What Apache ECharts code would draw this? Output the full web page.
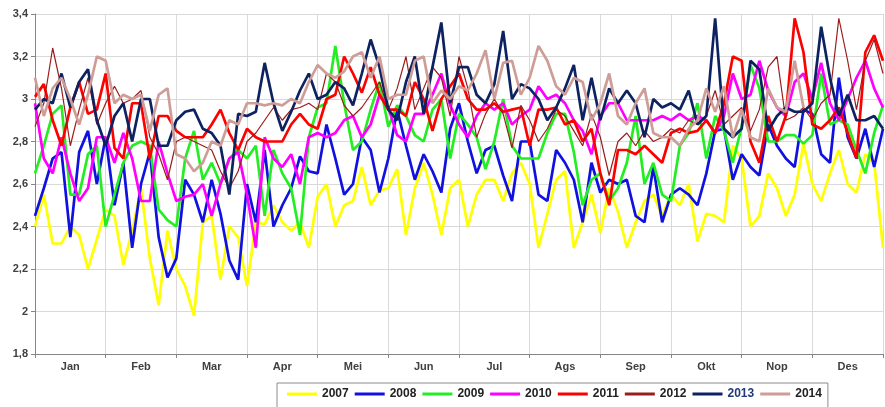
<!DOCTYPE html>
<html>
<head>
<meta charset="utf-8">
<script src="https://cdn.jsdelivr.net/npm/echarts@6/dist/echarts.min.js"></script>
<style>
html,body{margin:0;padding:0;background:#fff;}
#c{width:885px;height:407px;}
</style>
</head>
<body>
<div id="c"></div>
<script>
// Month labels (Indonesian)
const months = ['Jan','Feb','Mar','Apr','Mei','Jun','Jul','Ags','Sep','Okt','Nop','Des'];
// Y tick values
const yTicks = [1.8, 2.0, 2.2, 2.4, 2.6, 2.8, 3.0, 3.2, 3.4];
const years = ['2007','2008','2009','2010','2011','2012','2013','2014'];

// 8 readings per month (Jan..Des) + year-end value
const y2007 = [
2.40,2.55,2.32,2.32,2.40,2.36,2.20,2.34,
2.48,2.45,2.22,2.38,2.58,2.25,2.03,2.38,
2.20,2.12,1.98,2.42,2.45,2.15,2.40,2.35,
2.12,2.42,2.41,2.50,2.42,2.38,2.42,2.30,
2.54,2.60,2.40,2.50,2.52,2.68,2.50,2.57,
2.58,2.67,2.36,2.58,2.70,2.55,2.36,2.58,
2.62,2.40,2.55,2.62,2.62,2.52,2.65,2.70,
2.60,2.30,2.46,2.62,2.66,2.30,2.42,2.55,
2.37,2.58,2.47,2.30,2.42,2.52,2.55,2.45,
2.55,2.50,2.60,2.33,2.46,2.45,2.42,2.78,
2.72,2.40,2.45,2.65,2.58,2.45,2.55,2.79,
2.60,2.52,2.65,2.76,2.60,2.56,2.74,2.70,
2.30];
const y2008 = [
2.45,2.58,2.72,2.75,2.35,2.75,2.85,2.60,
2.82,2.50,2.70,2.30,2.60,2.75,2.35,2.16,
2.25,2.62,2.55,2.42,2.62,2.46,2.24,2.15,
2.60,2.42,2.76,2.40,2.50,2.58,2.73,2.66,
2.65,2.88,2.72,2.55,2.60,2.82,2.76,2.56,
2.72,2.95,2.78,2.62,2.74,2.66,2.56,2.86,
2.98,2.80,2.65,2.76,2.78,2.64,2.52,2.80,
2.80,2.55,2.52,2.76,2.70,2.62,2.42,2.70,
2.56,2.62,2.60,2.62,2.45,2.42,2.68,2.42,
2.55,2.58,2.55,2.50,2.65,2.85,2.86,2.62,
2.74,2.68,2.64,2.88,2.78,2.72,2.68,2.95,
2.93,2.74,2.70,3.10,2.82,2.72,2.86,2.68,
2.86];
const y2009 = [
2.65,2.78,2.93,2.97,2.55,2.55,2.74,2.78,
2.40,2.55,2.70,2.78,2.80,2.78,2.48,2.43,
2.40,2.72,2.85,2.62,2.70,2.60,2.72,2.76,
2.72,2.78,2.45,2.76,2.65,2.58,2.36,2.82,
2.96,2.98,3.25,2.98,2.76,2.80,2.95,3.08,
2.87,2.97,2.92,2.83,2.80,2.95,3.00,2.72,
2.93,2.88,2.82,2.67,2.80,3.00,2.78,2.72,
2.72,2.72,2.84,2.93,2.93,2.75,2.50,2.62,
2.65,2.52,2.58,2.70,2.92,2.60,2.70,2.55,
2.52,2.78,2.84,2.98,2.72,2.92,2.85,2.70,
2.87,3.16,3.05,2.80,2.80,2.83,2.83,2.79,
2.83,3.12,2.88,2.90,2.88,2.76,2.65,2.84,
2.97];
const y2010 = [
2.98,2.72,2.65,2.82,2.65,2.52,2.58,2.82,
2.82,2.70,2.84,2.72,2.52,2.52,2.80,2.65,
2.52,2.54,2.55,2.60,2.45,2.60,2.72,2.75,
2.55,2.30,2.82,2.72,2.68,2.74,2.60,2.82,
2.84,2.82,2.84,2.90,2.92,2.82,2.88,3.02,
2.96,2.83,2.80,2.93,2.93,3.02,3.12,2.97,
2.88,2.82,2.92,2.98,2.95,2.98,2.88,2.92,
2.95,3.06,3.00,3.02,2.98,2.90,2.85,2.74,
2.92,2.98,2.98,2.90,2.90,2.90,2.90,2.92,
2.90,2.93,2.90,2.92,2.90,2.84,2.92,3.12,
3.00,3.02,3.18,3.04,2.96,2.92,3.08,3.12,
3.00,3.17,2.98,2.90,3.00,3.10,3.18,3.05,
2.96];
const y2011 = [
3.01,3.07,2.90,2.78,2.96,3.08,2.93,2.95,
3.12,2.77,2.72,2.98,2.98,2.72,2.92,2.92,
2.85,2.82,2.82,2.82,2.88,2.95,2.84,2.76,
2.86,2.82,2.80,2.80,2.80,2.88,2.93,2.88,
2.86,3.00,3.02,3.20,3.12,3.03,3.15,3.02,
2.95,2.95,2.92,3.08,3.00,2.85,3.00,3.06,
3.12,3.00,2.95,2.95,2.98,2.94,2.95,2.96,
2.78,2.95,2.95,2.96,2.88,2.90,2.80,2.86,
2.65,2.50,2.76,2.76,2.74,2.78,2.74,2.70,
2.84,2.86,2.84,2.85,2.90,2.84,2.98,3.20,
3.18,2.80,2.70,2.92,2.80,2.92,3.38,3.22,
2.88,2.86,2.90,2.96,2.84,2.72,3.22,3.30,
3.18];
const y2012 = [
2.87,2.98,3.24,3.05,2.78,2.95,3.10,2.88,
2.98,3.06,2.98,3.00,3.04,2.82,2.74,2.62,
2.80,2.82,2.80,2.78,2.76,2.66,2.58,2.66,
2.80,2.84,2.90,2.96,2.90,2.95,2.96,2.98,
2.95,3.12,3.08,2.97,2.92,2.96,3.02,3.08,
2.95,3.05,3.20,2.95,3.05,3.15,3.10,2.92,
3.20,3.05,2.82,2.93,3.00,2.93,2.77,2.97,
2.90,2.80,2.86,2.95,2.92,2.85,2.78,2.93,
2.82,2.64,2.80,2.84,2.78,2.85,2.80,2.82,
2.86,2.84,2.90,2.88,2.92,3.04,2.88,2.92,
2.96,2.85,2.95,3.15,3.20,2.90,2.92,2.96,
2.90,2.98,3.02,3.38,3.18,2.95,3.18,3.28,
3.12];
const y2013 = [
2.95,3.00,2.98,3.12,2.96,3.08,3.14,2.90,
2.78,2.92,2.98,2.80,3.00,3.00,2.78,2.78,
2.90,2.94,2.95,2.86,2.84,2.78,2.55,2.93,
2.92,2.94,3.17,2.98,2.85,2.94,3.04,3.12,
3.00,3.02,3.08,3.05,2.97,3.12,3.28,3.15,
2.95,2.90,3.08,3.20,2.93,3.15,3.36,2.98,
3.15,3.15,3.02,2.98,3.07,3.32,3.00,3.07,
3.05,3.00,2.90,2.96,3.05,3.16,2.90,3.10,
2.90,3.05,2.98,3.04,2.98,2.82,3.00,2.96,
2.98,2.95,3.04,2.88,2.92,3.38,2.86,2.82,
2.86,3.18,3.14,2.85,2.92,2.96,2.94,2.94,
2.98,3.34,3.10,2.92,3.02,2.90,2.90,2.92,
2.86];
const y2014 = [
3.10,2.92,3.05,3.10,3.00,2.88,3.02,3.20,
3.18,2.98,3.02,3.00,3.02,2.85,3.02,3.05,
2.74,2.72,2.66,2.70,2.80,2.78,2.90,2.88,
2.98,2.98,2.97,2.98,2.97,3.00,2.98,3.08,
3.16,3.12,3.10,3.13,3.20,3.22,3.10,3.20,
3.00,3.02,3.02,3.18,3.20,2.98,3.04,3.00,
3.06,3.04,3.12,3.23,3.00,3.17,3.18,3.02,
3.10,3.25,3.18,3.06,3.02,3.10,3.08,2.90,
2.98,3.12,2.92,2.88,2.98,3.05,2.84,2.82,
2.82,2.78,2.86,2.90,3.05,2.94,3.06,2.82,
2.95,2.82,2.80,3.05,2.96,2.94,3.18,2.96,
null,null,null,null,null,null,null,null,
null];

const seriesValues = [y2007,y2008,y2009,y2010,y2011,y2012,y2013,y2014];
const colors = ['#ffff00','#1010e0','#22ee22','#ff00ff','#ff0000','#9b1c1c','#0d2260','#cf9d98'];
const widths = [2.7,2.7,2.7,2.7,2.7,1.2,2.7,2.7];

function toPairs(arr){
  const out = [];
  arr.forEach((v,i)=>{ if(v!==null) out.push([i/8, v]); });
  return out;
}

const chart = echarts.init(document.getElementById('c'), null, {renderer:'canvas'});
const labelStyle = {fontFamily:'Liberation Sans, Arial, sans-serif', fontWeight:'bold', fontSize:11, color:'#404040'};

chart.setOption({
  animation:false,
  backgroundColor:'#fff',
  grid:{left:35, right:2, top:14, bottom:53, containLabel:false},
  xAxis:[
    {type:'value', min:0, max:12, interval:1, position:'bottom',
     axisLine:{show:true, lineStyle:{color:'#868686', width:1}},
     axisTick:{show:true, length:4, lineStyle:{color:'#868686'}},
     axisLabel:{show:false},
     splitLine:{show:true, lineStyle:{color:'#d9d9d9', width:1}}},
    {type:'category', data:months, position:'bottom', boundaryGap:true,
     axisLine:{show:false}, axisTick:{show:false}, splitLine:{show:false},
     axisLabel:Object.assign({margin:7, interval:0}, labelStyle)}
  ],
  yAxis:{type:'value', min:yTicks[0], max:yTicks[yTicks.length-1], interval:0.2,
     axisLine:{show:true, lineStyle:{color:'#868686', width:1}},
     axisTick:{show:true, length:4, inside:false, lineStyle:{color:'#868686'}},
     splitLine:{show:true, lineStyle:{color:'#d9d9d9', width:1}},
     axisLabel:Object.assign({margin:7, formatter:function(v){
        return String(+v.toFixed(1)).replace('.', ',');
     }}, labelStyle)},
  legend:{
    left:277, top:383, orient:'horizontal',
    borderColor:'#8c8c8c', borderWidth:1, padding:[5,6,8,10],
    itemWidth:30, itemHeight:3, itemGap:6, icon:'rect',
    textStyle:{fontFamily:'Liberation Sans, Arial, sans-serif', fontWeight:'bold', fontSize:12, color:'#222'},
    data: years.map((y,i)=> i===6 ? {name:y, textStyle:{color:'#1f3a7a'}} : {name:y})
  },
  series: years.map((y,i)=>({
    name:y, type:'line', xAxisIndex:0, yAxisIndex:0,
    data:toPairs(seriesValues[i]),
    showSymbol:false, symbol:'none', connectNulls:false,
    lineStyle:{color:colors[i], width:widths[i]},
    itemStyle:{color:colors[i]},
    emphasis:{disabled:true}
  }))
});
</script>
</body>
</html>
